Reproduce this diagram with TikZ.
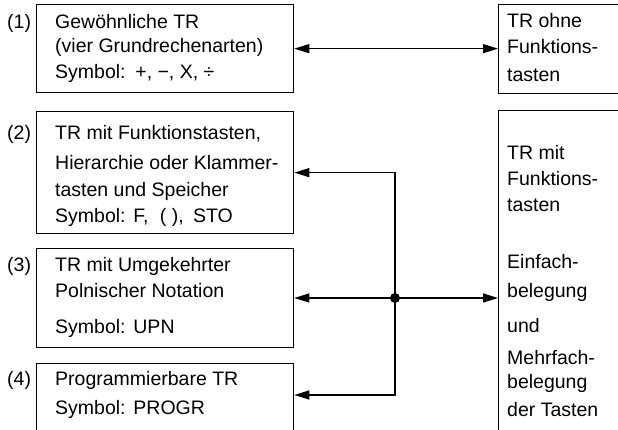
\documentclass[tikz,border=0pt]{standalone}
\usepackage{fontspec}
\setmainfont{Liberation Sans}
\usetikzlibrary{arrows.meta,calc}
\begin{document}
\begin{tikzpicture}[x=1pt,y=-1pt,
  box/.style={draw,line width=1.3pt,anchor=north west,inner sep=0pt},
  txt/.style={anchor=base west,inner sep=0pt,font=\fontsize{19.5}{23}\selectfont},
  arr/.style={line width=1.3pt,-{Triangle[length=15pt,width=9pt]}},
  darr/.style={line width=1.3pt,{Triangle[length=15pt,width=9pt]}-{Triangle[length=15pt,width=9pt]}}]
\useasboundingbox (0,0) rectangle (618,430);
\clip (0,0) rectangle (618,430);
% boxes
\node[box,minimum width=257pt,minimum height=88pt] (b1) at (36,4) {};
\node[box,minimum width=257pt,minimum height=122pt] (b2) at (36,111) {};
\node[box,minimum width=257pt,minimum height=99pt] (b3) at (36,248) {};
\node[box,minimum width=257pt,minimum height=90pt] (b4) at (36,363) {};
\node[box,minimum width=150pt,minimum height=89pt] (r1) at (498,4) {};
\node[box,minimum width=150pt,minimum height=360pt] (r2) at (498,110) {};
% labels
\node[txt] (l1) at (7,29) {(1)};
\node[txt] (l2) at (7,140) {(2)};
\node[txt] (l3) at (7,272) {(3)};
\node[txt] (l4) at (7,385) {(4)};
% box texts
\node[txt] (t11) at (55,29) {Gewöhnliche TR};
\node[txt] (t12) at (55,53) {(vier Grundrechenarten)};
\node[txt] (t13) at (55,79) {Symbol:\hspace{0.5em}+, −, X, ÷};
\node[txt] (t21) at (55,140) {TR mit Funktionstasten,};
\node[txt] (t22) at (55,170) {Hierarchie oder Klammer-};
\node[txt] (t23) at (55,197) {tasten und Speicher};
\node[txt] (t24) at (55,223) {Symbol:\hspace{0.4em}F,\hspace{0.3em} ( ),\hspace{0.2em} STO};
\node[txt] (t31) at (55,272) {TR mit Umgekehrter};
\node[txt] (t32) at (55,298) {Polnischer Notation};
\node[txt] (t33) at (55,333) {Symbol:\hspace{0.4em}UPN};
\node[txt] (t41) at (55,385) {Programmierbare TR};
\node[txt] (t42) at (55,414) {Symbol:\hspace{0.4em}PROGR};
% right texts
\node[txt] (s11) at (507,28) {TR ohne};
\node[txt] (s12) at (507,54) {Funktions-};
\node[txt] (s13) at (507,82) {tasten};
\node[txt] (s21) at (507,160) {TR mit};
\node[txt] (s22) at (507,186) {Funktions-};
\node[txt] (s23) at (507,212) {tasten};
\node[txt] (s24) at (507,269) {Einfach-};
\node[txt] (s25) at (507,297) {belegung};
\node[txt] (s26) at (507,332) {und};
\node[txt] (s27) at (507,364) {Mehrfach-};
\node[txt] (s28) at (507,388) {belegung};
\node[txt] (s29) at (507,416) {der Tasten};
% connectors
\coordinate (j) at (395,298);
\coordinate (b4in) at ($(b4.north east)+(0,32)$);
\draw[darr] (b1.east) -- (b1.east -| r1.west);
\draw[arr] (j) |- (b2.east);
\draw[arr] (j) -- (j -| b3.east);
\draw[arr] (j) |- (b4in);
\draw[arr] (j) -- (j -| r2.west);
\fill (j) circle (5pt);
\end{tikzpicture}
\end{document}
